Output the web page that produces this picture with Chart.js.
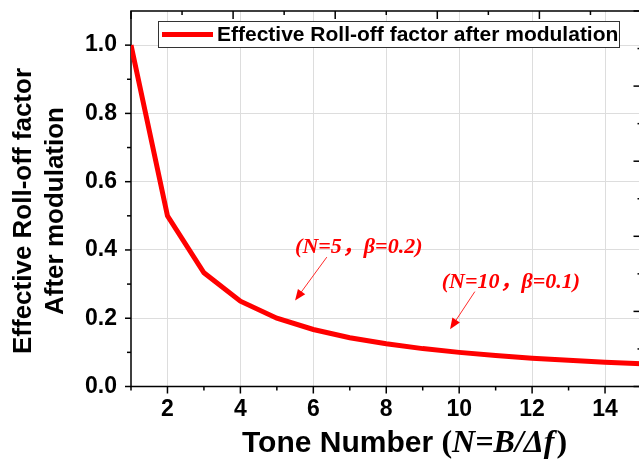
<!DOCTYPE html>
<html>
<head>
<meta charset="utf-8">
<script src="https://cdn.jsdelivr.net/npm/chart.js@4"></script>
<style>
    html, body { margin: 0; padding: 0; background: #fff; overflow: hidden; }
    #wrap { width: 639px; height: 462px; overflow: hidden; }
</style>
</head>
<body>
<div id="wrap"><canvas id="rollOff" width="645" height="462"></canvas></div>
<script>
// values
const toneNumbers = [1, 2, 3, 4, 5, 6, 7, 8, 9, 10, 11, 12, 13, 14, 15];
const rollOffFactor = [1.0, 0.5, 0.333, 0.25, 0.2, 0.167, 0.143, 0.125, 0.111, 0.1, 0.091, 0.083, 0.077, 0.071, 0.067];

const xMajor = [2, 4, 6, 8, 10, 12, 14];
const xMinor = [1, 3, 5, 7, 9, 11, 13, 15];
const yMajor = [0, 0.2, 0.4, 0.6, 0.8, 1.0];
const yMinor = [0.1, 0.3, 0.5, 0.7, 0.9];
const sideMajor = [0, 0.2, 0.4, 0.6, 0.8, 1.0];
const sideMinor = [0.1, 0.3, 0.5, 0.7, 0.9];

const noteTexts = ['(N=5，β=0.2)', '(N=10，β=0.1)'];
const noteX = [5.5, 9.52];
const noteY = [0.391, 0.288];
const arrowFromX = [6.37, 10.43];
const arrowFromY = [0.379, 0.278];
const arrowToX = [5.5, 9.75];
const arrowToY = [0.252, 0.168];

const SANS = '"Liberation Sans", Arial, sans-serif';
const SERIF = '"Liberation Serif", "Times New Roman", "Noto Sans CJK SC", serif';

function ticks(ctx, list, len, fn) {
    list.forEach(v => {
        const [x1, y1, x2, y2] = fn(v, len);
        ctx.beginPath();
        ctx.moveTo(x1, y1);
        ctx.lineTo(x2, y2);
        ctx.stroke();
    });
}

const frame = {
    id: 'frame',
    beforeDatasetsDraw(chart) {
        const {ctx, chartArea: a, scales} = chart;
        ctx.save();
        ctx.strokeStyle = '#000';
        ctx.lineWidth = 1.5;
        ctx.strokeRect(a.left, a.top, a.right - a.left, a.bottom - a.top);

        // bottom, outward
        ticks(ctx, xMajor, 7, (v, l) => { const p = scales.x.getPixelForValue(v); return [p, a.bottom, p, a.bottom + l]; });
        ticks(ctx, xMinor, 4, (v, l) => { const p = scales.x.getPixelForValue(v); return [p, a.bottom, p, a.bottom + l]; });
        // left, outward
        ticks(ctx, yMajor, 6, (v, l) => { const p = scales.y.getPixelForValue(v); return [a.left, p, a.left - l, p]; });
        ticks(ctx, yMinor, 4, (v, l) => { const p = scales.y.getPixelForValue(v); return [a.left, p, a.left - l, p]; });
        // top, inward
        ticks(ctx, sideMajor, 8, (v, l) => { const p = scales.x2.getPixelForValue(v); return [p, a.top, p, a.top + l]; });
        ticks(ctx, sideMinor, 4, (v, l) => { const p = scales.x2.getPixelForValue(v); return [p, a.top, p, a.top + l]; });
        // right, inward
        ticks(ctx, sideMajor, 8, (v, l) => { const p = scales.y2.getPixelForValue(v); return [a.right, p, a.right - l, p]; });
        ticks(ctx, sideMinor, 4, (v, l) => { const p = scales.y2.getPixelForValue(v); return [a.right, p, a.right - l, p]; });
        ctx.restore();
    }
};

const overlay = {
    id: 'overlay',
    afterDraw(chart) {
        const {ctx, scales} = chart;
        const ds = chart.data.datasets[0];
        ctx.save();

        // legend box
        ctx.fillStyle = '#fff';
        ctx.fillRect(158.5, 21.5, 461, 26);
        ctx.strokeStyle = '#333';
        ctx.lineWidth = 1;
        ctx.strokeRect(158.5, 21.5, 461, 26);
        ctx.strokeStyle = ds.borderColor;
        ctx.lineWidth = 5;
        ctx.beginPath();
        ctx.moveTo(162, 34.5);
        ctx.lineTo(213, 34.5);
        ctx.stroke();
        ctx.fillStyle = '#000';
        ctx.font = 'bold 21px ' + SANS;
        ctx.textBaseline = 'middle';
        ctx.fillText(ds.label, 217, 35);

        // notes and arrows
        ctx.fillStyle = '#ff0000';
        ctx.strokeStyle = '#ff2a2a';
        ctx.font = 'italic bold 22px ' + SERIF;
        ctx.textBaseline = 'alphabetic';
        noteTexts.forEach((t, i) => {
            ctx.fillText(t, scales.x.getPixelForValue(noteX[i]), scales.y.getPixelForValue(noteY[i]));
            const x1 = scales.x.getPixelForValue(arrowFromX[i]);
            const y1 = scales.y.getPixelForValue(arrowFromY[i]);
            const x2 = scales.x.getPixelForValue(arrowToX[i]);
            const y2 = scales.y.getPixelForValue(arrowToY[i]);
            const ang = Math.atan2(y2 - y1, x2 - x1);
            ctx.lineWidth = 1;
            ctx.beginPath();
            ctx.moveTo(x1, y1);
            ctx.lineTo(x2 - 8 * Math.cos(ang), y2 - 8 * Math.sin(ang));
            ctx.stroke();
            ctx.beginPath();
            ctx.moveTo(x2, y2);
            ctx.lineTo(x2 - 11 * Math.cos(ang) + 4.5 * Math.sin(ang), y2 - 11 * Math.sin(ang) - 4.5 * Math.cos(ang));
            ctx.lineTo(x2 - 11 * Math.cos(ang) - 4.5 * Math.sin(ang), y2 - 11 * Math.sin(ang) + 4.5 * Math.cos(ang));
            ctx.closePath();
            ctx.fill();
        });

        // x title
        ctx.fillStyle = '#000';
        let x = 242;
        ctx.font = 'bold 30px ' + SANS;
        ctx.fillText('Tone Number ', x, 452);
        x += ctx.measureText('Tone Number ').width;
        ctx.font = 'bold 32px ' + SERIF;
        ctx.fillText('(', x, 452);
        x += ctx.measureText('(').width;
        ctx.font = 'italic bold 32px ' + SERIF;
        ctx.fillText('N=B/Δf', x, 452);
        x += ctx.measureText('N=B/Δf').width + 2;
        ctx.font = 'bold 32px ' + SERIF;
        ctx.fillText(')', x, 452);

        // y title
        ctx.translate(31, 211);
        ctx.rotate(-Math.PI / 2);
        ctx.textAlign = 'center';
        ctx.font = 'bold 26px ' + SANS;
        ctx.fillText('Effective Roll-off factor', 0, 0);
        ctx.fillText('After modulation', 0, 32);
        ctx.restore();
    }
};

const tickFont = {family: SANS, size: 23, weight: 'bold'};

new Chart(document.getElementById('rollOff'), {
    type: 'line',
    data: {
        datasets: [{
            label: 'Effective Roll-off factor after modulation',
            data: toneNumbers.map((n, i) => ({x: n, y: rollOffFactor[i]})),
            borderColor: '#ff0000',
            borderWidth: 5,
            pointRadius: 0,
            tension: 0,
            fill: false,
            xAxisID: 'x',
            yAxisID: 'y'
        }]
    },
    options: {
        responsive: false,
        animation: false,
        devicePixelRatio: 1,
        layout: {padding: {left: 0, right: 3.5, top: 11, bottom: 0}},
        plugins: {legend: {display: false}, tooltip: {enabled: false}},
        scales: {
            x: {
                type: 'linear', position: 'bottom', min: 1, max: 15,
                afterBuildTicks: s => { s.ticks = xMajor.map(v => ({value: v})); },
                afterFit: s => { s.height = 75.5; s.paddingLeft = 0; s.paddingRight = 0; },
                grid: {color: '#dddddd', lineWidth: 1, drawTicks: false},
                border: {display: false},
                ticks: {padding: 9, color: '#000', font: tickFont, maxRotation: 0, autoSkip: false}
            },
            y: {
                type: 'linear', position: 'left', min: 0, max: 1.1,
                afterBuildTicks: s => { s.ticks = yMajor.map(v => ({value: v})); },
                afterFit: s => { s.width = 131; s.paddingTop = 0; s.paddingBottom = 0; },
                grid: {color: '#dddddd', lineWidth: 1, drawTicks: false},
                border: {display: false},
                ticks: {padding: 14, color: '#000', font: tickFont, callback: v => v.toFixed(1)}
            },
            x2: {
                type: 'linear', position: 'top', min: 0, max: 1,
                afterFit: s => { s.height = 0; s.paddingLeft = 0; s.paddingRight = 0; },
                grid: {display: false, drawTicks: false},
                border: {display: false},
                ticks: {display: false}
            },
            y2: {
                type: 'linear', position: 'right', min: 0, max: 1,
                afterFit: s => { s.width = 0; s.paddingTop = 0; s.paddingBottom = 0; },
                grid: {display: false, drawTicks: false},
                border: {display: false},
                ticks: {display: false}
            }
        }
    },
    plugins: [frame, overlay]
});
</script>
</body>
</html>
